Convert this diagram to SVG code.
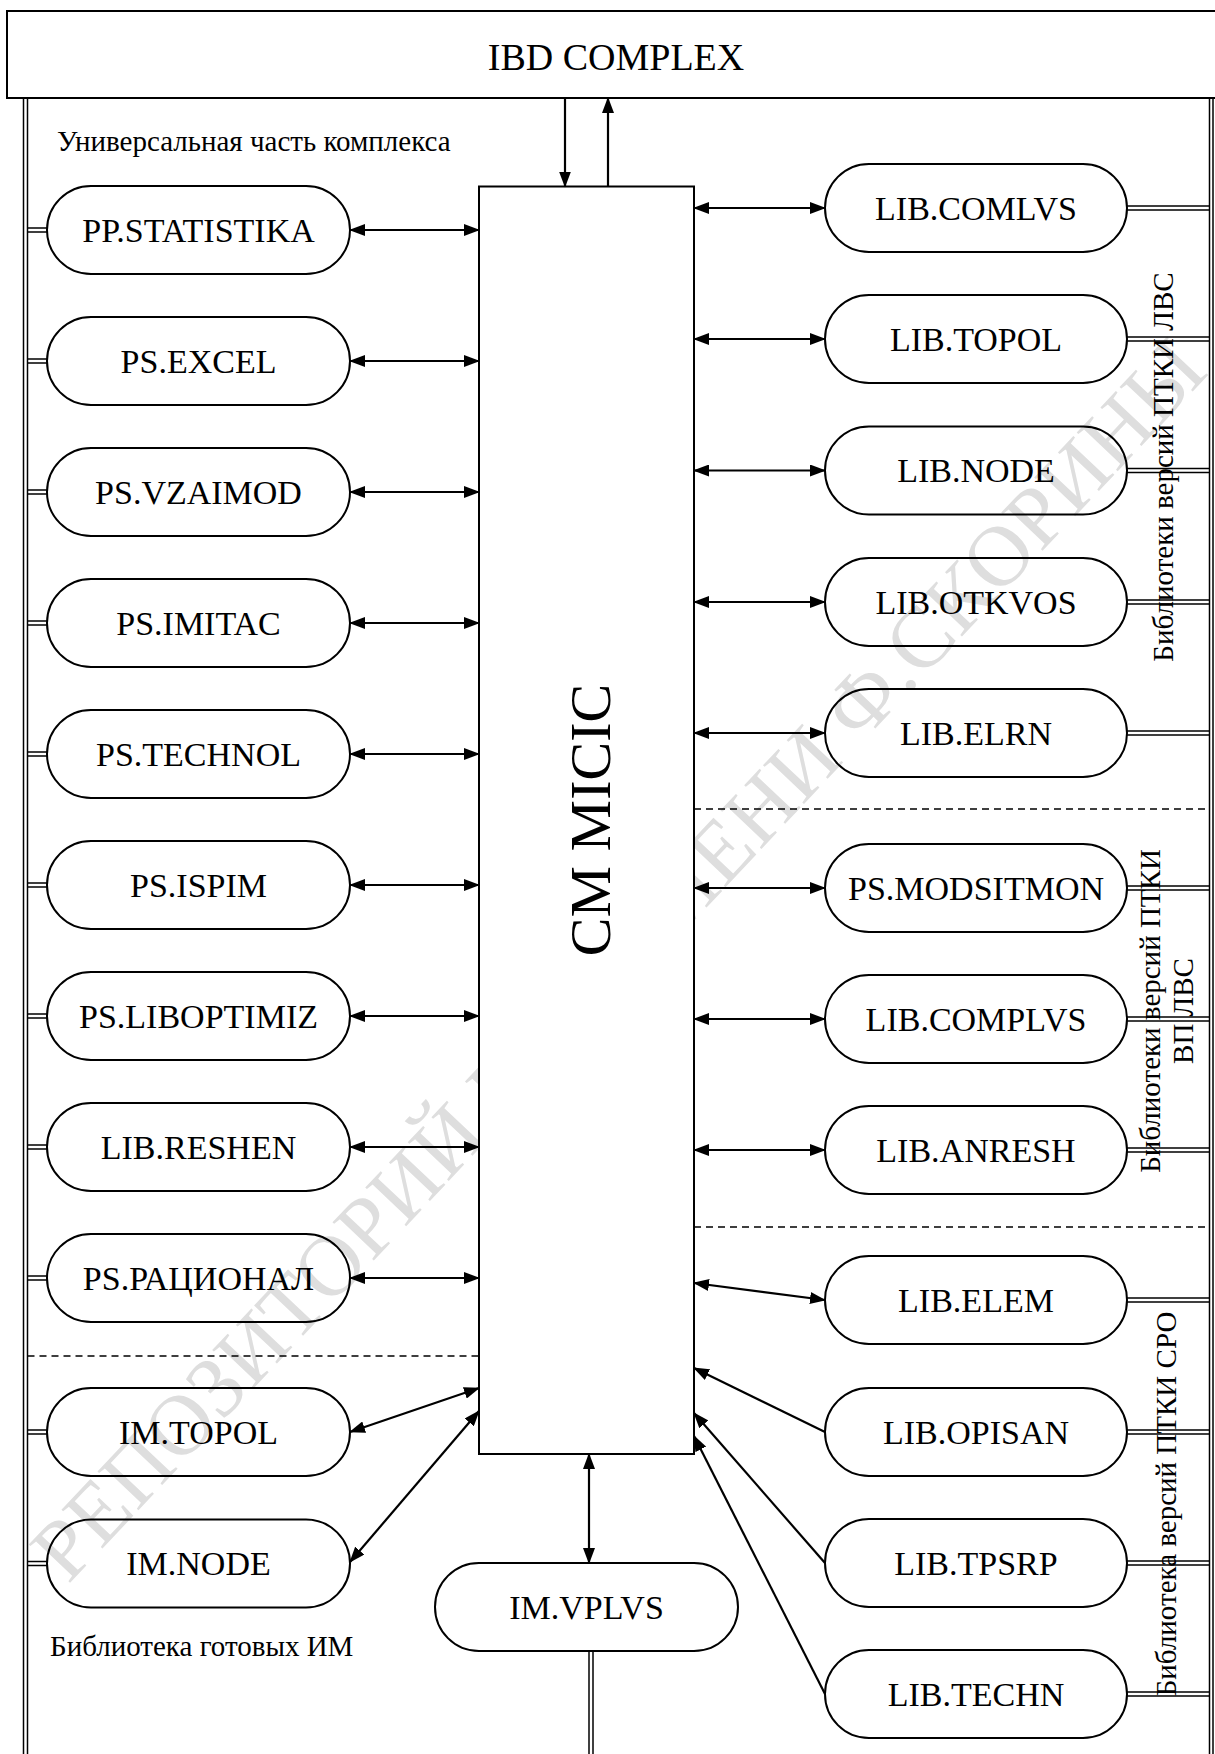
<svg xmlns="http://www.w3.org/2000/svg" width="1215" height="1754" viewBox="0 0 1215 1754">
<style>
  .bg{fill:#ffffff}
  .frame{fill:#ffffff;stroke:#000;stroke-width:2}
  .pill{fill:none;stroke:#000;stroke-width:2}
  .lbl{font-family:"Liberation Serif","Times New Roman",serif;font-size:34px;fill:#000;text-anchor:middle}
  .cap{font-family:"Liberation Serif","Times New Roman",serif;font-size:29px;fill:#000}
  .dbl{stroke:#000;stroke-width:1.5;fill:none}
  .arr{stroke:#000;stroke-width:2.2;fill:none}
  .dash{stroke:#000;stroke-width:1.5;stroke-dasharray:7 5;fill:none}
  .wm{font-family:"Liberation Serif","Times New Roman",serif;font-size:86px;fill:#dedede}
</style>
<defs>
  <marker id="ah" viewBox="0 0 16 12" markerWidth="16" markerHeight="12" refX="15" refY="6" orient="auto-start-reverse" markerUnits="userSpaceOnUse">
    <path d="M0,0 L16,6 L0,12 z" fill="#000"/>
  </marker>
</defs>
<rect class="bg" x="0" y="0" width="1215" height="1754"/>

<!-- watermark -->
<text class="wm" transform="translate(68,1585) rotate(-46.7)" textLength="1665" lengthAdjust="spacingAndGlyphs">РЕПОЗИТОРИЙ ГГУ ИМЕНИ Ф.СКОРИНЫ</text>

<!-- frame double lines -->
<g id="frame-lines">
  <line class="dbl" x1="23.5" y1="98" x2="23.5" y2="1754"/>
  <line class="dbl" x1="27.5" y1="98" x2="27.5" y2="1754"/>
  <line class="dbl" x1="1209.5" y1="98" x2="1209.5" y2="1754"/>
  <line class="dbl" x1="1213" y1="98" x2="1213" y2="1754"/>
  <line class="dash" x1="27.5" y1="1356" x2="479" y2="1356"/>
  <line class="dash" x1="694" y1="809" x2="1209.5" y2="809"/>
  <line class="dash" x1="694" y1="1227" x2="1209.5" y2="1227"/>
</g>

<g id="ibd-complex">
  <rect class="frame" x="7" y="11" width="1220" height="87"/>
  <text x="616" y="70" style="font-family:'Liberation Serif','Times New Roman',serif;font-size:38px;text-anchor:middle">IBD COMPLEX</text>
</g>

<g id="cm-micic">
  <rect class="frame" x="479" y="186.5" width="215" height="1267.5"/>
  <text transform="translate(610,820) rotate(-90)" style="font-family:'Liberation Serif','Times New Roman',serif;font-size:58px;text-anchor:middle">CM MICIC</text>
</g>

<!-- labels -->
<g id="labels">
  <text class="cap" x="57" y="151">Универсальная часть комплекса</text>
  <text class="cap" x="50" y="1656">Библиотека готовых ИМ</text>
  <text class="cap" transform="translate(1173,467) rotate(-90)" text-anchor="middle">Библиотеки версий ПТКИ ЛВС</text>
  <text class="cap" transform="translate(1160,1011) rotate(-90)" text-anchor="middle">Библиотеки версий ПТКИ</text>
  <text class="cap" transform="translate(1193,1011) rotate(-90)" text-anchor="middle">ВП ЛВС</text>
  <text class="cap" transform="translate(1176,1504) rotate(-90)" text-anchor="middle">Библиотека версий ПТКИ СРО</text>
</g>

<!-- left nodes -->
<g id="n-pp-statistika"><rect class="pill" x="47" y="186" width="303" height="88" rx="44"/><text class="lbl" x="198.5" y="241.5">PP.STATISTIKA</text></g>
<g id="n-ps-excel"><rect class="pill" x="47" y="317" width="303" height="88" rx="44"/><text class="lbl" x="198.5" y="372.5">PS.EXCEL</text></g>
<g id="n-ps-vzaimod"><rect class="pill" x="47" y="448" width="303" height="88" rx="44"/><text class="lbl" x="198.5" y="503.5">PS.VZAIMOD</text></g>
<g id="n-ps-imitac"><rect class="pill" x="47" y="579" width="303" height="88" rx="44"/><text class="lbl" x="198.5" y="634.5">PS.IMITAC</text></g>
<g id="n-ps-technol"><rect class="pill" x="47" y="710" width="303" height="88" rx="44"/><text class="lbl" x="198.5" y="765.5">PS.TECHNOL</text></g>
<g id="n-ps-ispim"><rect class="pill" x="47" y="841" width="303" height="88" rx="44"/><text class="lbl" x="198.5" y="896.5">PS.ISPIM</text></g>
<g id="n-ps-liboptimiz"><rect class="pill" x="47" y="972" width="303" height="88" rx="44"/><text class="lbl" x="198.5" y="1027.5">PS.LIBOPTIMIZ</text></g>
<g id="n-lib-reshen"><rect class="pill" x="47" y="1103" width="303" height="88" rx="44"/><text class="lbl" x="198.5" y="1158.5">LIB.RESHEN</text></g>
<g id="n-ps-racional"><rect class="pill" x="47" y="1234" width="303" height="88" rx="44"/><text class="lbl" x="198.5" y="1289.5">PS.РАЦИОНАЛ</text></g>
<g id="n-im-topol"><rect class="pill" x="47" y="1388" width="303" height="88" rx="44"/><text class="lbl" x="198.5" y="1443.5">IM.TOPOL</text></g>
<g id="n-im-node"><rect class="pill" x="47" y="1519.5" width="303" height="88" rx="44"/><text class="lbl" x="198.5" y="1575">IM.NODE</text></g>

<!-- right nodes -->
<g id="n-lib-comlvs"><rect class="pill" x="825" y="164" width="302" height="88" rx="44"/><text class="lbl" x="976" y="219.5">LIB.COMLVS</text></g>
<g id="n-lib-topol"><rect class="pill" x="825" y="295" width="302" height="88" rx="44"/><text class="lbl" x="976" y="350.5">LIB.TOPOL</text></g>
<g id="n-lib-node"><rect class="pill" x="825" y="426.5" width="302" height="88" rx="44"/><text class="lbl" x="976" y="482">LIB.NODE</text></g>
<g id="n-lib-otkvos"><rect class="pill" x="825" y="558" width="302" height="88" rx="44"/><text class="lbl" x="976" y="613.5">LIB.OTKVOS</text></g>
<g id="n-lib-elrn"><rect class="pill" x="825" y="689" width="302" height="88" rx="44"/><text class="lbl" x="976" y="744.5">LIB.ELRN</text></g>
<g id="n-ps-modsitmon"><rect class="pill" x="825" y="844" width="302" height="88" rx="44"/><text class="lbl" x="976" y="899.5">PS.MODSITMON</text></g>
<g id="n-lib-complvs"><rect class="pill" x="825" y="975" width="302" height="88" rx="44"/><text class="lbl" x="976" y="1030.5">LIB.COMPLVS</text></g>
<g id="n-lib-anresh"><rect class="pill" x="825" y="1106" width="302" height="88" rx="44"/><text class="lbl" x="976" y="1161.5">LIB.ANRESH</text></g>
<g id="n-lib-elem"><rect class="pill" x="825" y="1256" width="302" height="88" rx="44"/><text class="lbl" x="976" y="1311.5">LIB.ELEM</text></g>
<g id="n-lib-opisan"><rect class="pill" x="825" y="1388" width="302" height="88" rx="44"/><text class="lbl" x="976" y="1443.5">LIB.OPISAN</text></g>
<g id="n-lib-tpsrp"><rect class="pill" x="825" y="1519" width="302" height="88" rx="44"/><text class="lbl" x="976" y="1574.5">LIB.TPSRP</text></g>
<g id="n-lib-techn"><rect class="pill" x="825" y="1650" width="302" height="88" rx="44"/><text class="lbl" x="976" y="1705.5">LIB.TECHN</text></g>

<g id="n-im-vplvs"><rect class="pill" x="435" y="1563" width="303" height="88" rx="44"/><text class="lbl" x="586.5" y="1618.5">IM.VPLVS</text></g>

<!-- connectors -->
<g id="connectors">
  <line class="arr" x1="565" y1="98" x2="565" y2="186.5" marker-end="url(#ah)"/>
  <line class="arr" x1="608" y1="186.5" x2="608" y2="98" marker-end="url(#ah)"/>
  <line class="arr" x1="350" y1="230" x2="479" y2="230" marker-start="url(#ah)" marker-end="url(#ah)"/>
  <line class="arr" x1="350" y1="361" x2="479" y2="361" marker-start="url(#ah)" marker-end="url(#ah)"/>
  <line class="arr" x1="350" y1="492" x2="479" y2="492" marker-start="url(#ah)" marker-end="url(#ah)"/>
  <line class="arr" x1="350" y1="623" x2="479" y2="623" marker-start="url(#ah)" marker-end="url(#ah)"/>
  <line class="arr" x1="350" y1="754" x2="479" y2="754" marker-start="url(#ah)" marker-end="url(#ah)"/>
  <line class="arr" x1="350" y1="885" x2="479" y2="885" marker-start="url(#ah)" marker-end="url(#ah)"/>
  <line class="arr" x1="350" y1="1016" x2="479" y2="1016" marker-start="url(#ah)" marker-end="url(#ah)"/>
  <line class="arr" x1="350" y1="1147" x2="479" y2="1147" marker-start="url(#ah)" marker-end="url(#ah)"/>
  <line class="arr" x1="350" y1="1278" x2="479" y2="1278" marker-start="url(#ah)" marker-end="url(#ah)"/>
  <line class="arr" x1="350" y1="1432" x2="479" y2="1388" marker-start="url(#ah)" marker-end="url(#ah)"/>
  <line class="arr" x1="350" y1="1562" x2="479" y2="1411" marker-start="url(#ah)" marker-end="url(#ah)"/>
  <line class="arr" x1="694" y1="208" x2="825" y2="208" marker-start="url(#ah)" marker-end="url(#ah)"/>
  <line class="arr" x1="694" y1="339" x2="825" y2="339" marker-start="url(#ah)" marker-end="url(#ah)"/>
  <line class="arr" x1="694" y1="470.5" x2="825" y2="470.5" marker-start="url(#ah)" marker-end="url(#ah)"/>
  <line class="arr" x1="694" y1="602" x2="825" y2="602" marker-start="url(#ah)" marker-end="url(#ah)"/>
  <line class="arr" x1="694" y1="733" x2="825" y2="733" marker-start="url(#ah)" marker-end="url(#ah)"/>
  <line class="arr" x1="694" y1="888" x2="825" y2="888" marker-start="url(#ah)" marker-end="url(#ah)"/>
  <line class="arr" x1="694" y1="1019" x2="825" y2="1019" marker-start="url(#ah)" marker-end="url(#ah)"/>
  <line class="arr" x1="694" y1="1150" x2="825" y2="1150" marker-start="url(#ah)" marker-end="url(#ah)"/>
  <line class="arr" x1="694" y1="1283" x2="825" y2="1300" marker-start="url(#ah)" marker-end="url(#ah)"/>
  <line class="arr" x1="825" y1="1432" x2="694" y2="1368" marker-end="url(#ah)"/>
  <line class="arr" x1="825" y1="1563" x2="694" y2="1413" marker-end="url(#ah)"/>
  <line class="arr" x1="825" y1="1694" x2="694" y2="1436" marker-end="url(#ah)"/>
  <line class="arr" x1="589" y1="1454" x2="589" y2="1563" marker-start="url(#ah)" marker-end="url(#ah)"/>
  <line class="dbl" x1="589" y1="1651" x2="589" y2="1754"/>
  <line class="dbl" x1="593" y1="1651" x2="593" y2="1754"/>
  <path class="dbl" d="M27.5,228 H47 M27.5,232 H47 M27.5,359 H47 M27.5,363 H47 M27.5,490 H47 M27.5,494 H47 M27.5,621 H47 M27.5,625 H47 M27.5,752 H47 M27.5,756 H47 M27.5,883 H47 M27.5,887 H47 M27.5,1014 H47 M27.5,1018 H47 M27.5,1145 H47 M27.5,1149 H47 M27.5,1276 H47 M27.5,1280 H47 M27.5,1430 H47 M27.5,1434 H47 M27.5,1561.5 H47 M27.5,1565.5 H47"/>
  <path class="dbl" d="M1127,206 H1209.5 M1127,210 H1209.5 M1127,337 H1209.5 M1127,341 H1209.5 M1127,468.5 H1209.5 M1127,472.5 H1209.5 M1127,600 H1209.5 M1127,604 H1209.5 M1127,731 H1209.5 M1127,735 H1209.5 M1127,886 H1209.5 M1127,890 H1209.5 M1127,1017 H1209.5 M1127,1021 H1209.5 M1127,1148 H1209.5 M1127,1152 H1209.5 M1127,1298 H1209.5 M1127,1302 H1209.5 M1127,1430 H1209.5 M1127,1434 H1209.5 M1127,1561 H1209.5 M1127,1565 H1209.5 M1127,1692 H1209.5 M1127,1696 H1209.5"/>
</g>
</svg>
